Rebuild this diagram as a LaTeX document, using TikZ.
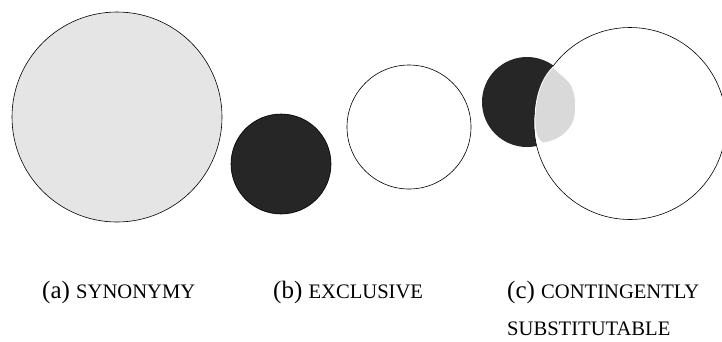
\documentclass[tikz,border=0pt]{standalone}
\usepackage{fontspec}
\setmainfont{Liberation Serif}
\newcommand{\fsc}[1]{{\fontsize{20.6}{24}\selectfont #1}}
\begin{document}
\begin{tikzpicture}[x=1pt,y=-1pt,
  lbl/.style={anchor=base west,inner sep=0pt,font=\fontsize{25}{30}\selectfont}]
\useasboundingbox (0,0) rectangle (722,341);
% (a)
\draw[fill=black!10,line width=0.6pt] (117,117) circle (105);
% (b)
\draw[fill=black!85,line width=0.6pt] (281,164) circle (50);
\draw[fill=white,line width=0.6pt] (409,127) circle (62);
% (c)
\fill[black!85] (527,102) circle (45);
\draw[fill=white,line width=0.6pt] (630,123.5) circle (96);
\draw[fill=black!15,draw=white,line width=0.8pt]
  (553,67) .. controls (560,74) and (566,78) .. (570,83)
  .. controls (576,92) and (577,108) .. (574,120)
  .. controls (570,132) and (558,141) .. (543,143)
  .. controls (537,140) and (535,132) .. (535,120)
  .. controls (535,100) and (540,80) .. cycle;
% labels
\node[lbl] (la) at (42,298) {(a) \fsc{SYNONYMY}};
\node[lbl] (lb) at (273,298) {(b) \fsc{EXCLUSIVE}};
\node[lbl] (lc) at (507,298) {(c) \fsc{CONTINGENTLY}};
\node[lbl] (lc2) at (507,335) {\fsc{SUBSTITUTABLE}};
\end{tikzpicture}
\end{document}
